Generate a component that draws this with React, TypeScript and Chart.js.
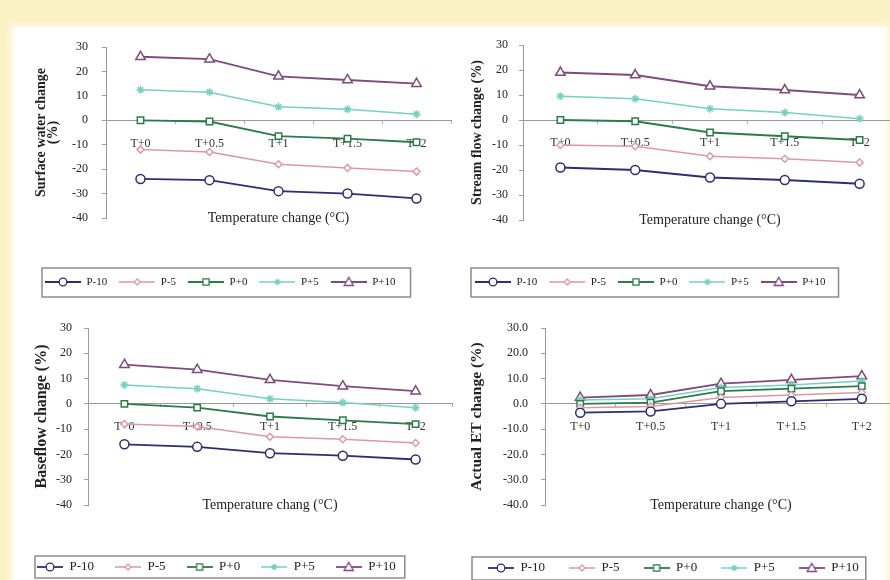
import React, { useEffect, useRef } from 'react';
import { Chart, registerables } from 'chart.js';

Chart.register(...registerables);

// ---------- data ----------
const categories = ['T+0', 'T+0.5', 'T+1', 'T+1.5', 'T+2'];
const seriesNames = ['P-10', 'P-5', 'P+0', 'P+5', 'P+10'];

const surfaceP10m = [-24, -24.5, -29, -30, -32];
const surfaceP5m = [-12, -13, -18, -19.5, -21];
const surfaceP0 = [0, -0.5, -6.5, -7.5, -9];
const surfaceP5 = [12.5, 11.5, 5.5, 4.5, 2.5];
const surfaceP10 = [26, 25, 18, 16.5, 15];

const streamP10m = [-19, -20, -23, -24, -25.5];
const streamP5m = [-10, -10.5, -14.5, -15.5, -17];
const streamP0 = [0, -0.5, -5, -6.5, -8];
const streamP5 = [9.5, 8.5, 4.5, 3, 0.5];
const streamP10 = [19, 18, 13.5, 12, 10];

const baseP10m = [-16, -17, -19.5, -20.5, -22];
const baseP5m = [-8, -9, -13, -14, -15.5];
const baseP0 = [0, -1.5, -5, -6.5, -8];
const baseP5 = [7.5, 6, 2, 0.5, -1.5];
const baseP10 = [15.5, 13.5, 9.5, 7, 5];

const etP10m = [-3.5, -3, 0, 1, 2];
const etP5m = [-1.5, -1, 2.5, 3.5, 4.5];
const etP0 = [0, 0.5, 5, 6, 7];
const etP5 = [1.5, 2, 6.5, 7.5, 9];
const etP10 = [2.5, 3.5, 8, 9.5, 11];

const yMin = -40;
const yMax = 30;
const yStep = 10;

// ---------- styles ----------
const seriesColors = ['#2e2e6e', '#d99aa7', '#2f7a4c', '#78d0c0', '#7e4c7c'];
const seriesMarkers = ['circle', 'rectRot', 'rect', 'star', 'triangle'];
const seriesRadius = [4.5, 3.5, 4.5, 4, 5.5];
const seriesLineWidth = [1.8, 1.5, 1.8, 1.5, 1.8];
const SERIF = '"Liberation Serif", "Times New Roman", serif';

function makeIcon(color: string, marker: string, radius: number, lw: number, w: number) {
  const h = 14;
  const c = document.createElement('canvas');
  c.width = w;
  c.height = h;
  const ctx = c.getContext('2d')!;
  ctx.strokeStyle = color;
  ctx.lineWidth = lw;
  ctx.beginPath();
  ctx.moveTo(0, h / 2);
  ctx.lineTo(w, h / 2);
  ctx.stroke();
  const cx = w / 2;
  const cy = h / 2;
  const r = radius * 0.85;
  ctx.fillStyle = '#fff';
  ctx.lineWidth = 1.3;
  ctx.beginPath();
  if (marker === 'circle') {
    ctx.arc(cx, cy, r, 0, Math.PI * 2);
    ctx.fill();
    ctx.stroke();
  } else if (marker === 'rectRot') {
    ctx.moveTo(cx, cy - r);
    ctx.lineTo(cx + r, cy);
    ctx.lineTo(cx, cy + r);
    ctx.lineTo(cx - r, cy);
    ctx.closePath();
    ctx.fill();
    ctx.stroke();
  } else if (marker === 'rect') {
    ctx.rect(cx - r * 0.8, cy - r * 0.8, r * 1.6, r * 1.6);
    ctx.fill();
    ctx.stroke();
  } else if (marker === 'triangle') {
    ctx.moveTo(cx, cy - r);
    ctx.lineTo(cx + r, cy + r * 0.75);
    ctx.lineTo(cx - r, cy + r * 0.75);
    ctx.closePath();
    ctx.fill();
    ctx.stroke();
  } else if (marker === 'star') {
    ctx.moveTo(cx - r, cy);
    ctx.lineTo(cx + r, cy);
    ctx.moveTo(cx, cy - r);
    ctx.lineTo(cx, cy + r);
    ctx.moveTo(cx - r * 0.7, cy - r * 0.7);
    ctx.lineTo(cx + r * 0.7, cy + r * 0.7);
    ctx.moveTo(cx - r * 0.7, cy + r * 0.7);
    ctx.lineTo(cx + r * 0.7, cy - r * 0.7);
    ctx.stroke();
  }
  return c;
}

const legendFramePlugin = {
  id: 'legendFrame',
  afterDraw(chart: any, _args: any, opts: any) {
    const lg = chart.legend;
    if (!lg || !lg.legendHitBoxes || !lg.legendHitBoxes.length) return;
    const hb = lg.legendHitBoxes;
    let x0 = Infinity, x1 = -Infinity, y0 = Infinity, y1 = -Infinity;
    hb.forEach((b: any) => {
      x0 = Math.min(x0, b.left);
      x1 = Math.max(x1, b.left + b.width);
      y0 = Math.min(y0, b.top);
      y1 = Math.max(y1, b.top + b.height);
    });
    const ctx = chart.ctx;
    ctx.save();
    ctx.strokeStyle = '#8c8c8c';
    ctx.lineWidth = 1.5;
    ctx.strokeRect(x0 - opts.l, y0 - opts.t, x1 - x0 + opts.l + opts.r, y1 - y0 + opts.t + opts.b);
    ctx.restore();
  },
};

type Spec = {
  series: number[][];
  yTitle: string | string[];
  xTitle: string;
  decimals: number;
  box: { left: number; top: number; width: number; height: number };
  pad: { left: number; top: number; right: number; bottom: number };
  yWidth: number;
  yTitleSize: number;
  yTitlePad: number;
  yTitleLH: number;
  yTickPad: number;
  xTitlePad: { top: number; bottom: number };
  legendFont: number;
  legendPad: number;
  iconW: number;
  frame: { l: number; r: number; t: number; b: number };
};

const specs: Spec[] = [
  {
    series: [surfaceP10m, surfaceP5m, surfaceP0, surfaceP5, surfaceP10],
    yTitle: ['Surface water change', '(%)'],
    xTitle: 'Temperature change (°C)',
    decimals: 0,
    box: { left: 10, top: 35, width: 448, height: 265 },
    pad: { left: 23, top: 12, right: 5, bottom: 2.5 },
    yWidth: 73,
    yTitleSize: 14,
    yTitlePad: 2,
    yTitleLH: 0.86,
    yTickPad: 14,
    xTitlePad: { top: -8.4, bottom: 38.1 },
    legendFont: 11,
    legendPad: 12,
    iconW: 36,
    frame: { l: 3, r: 15, t: 8.5, b: 9.5 },
  },
  {
    series: [streamP10m, streamP5m, streamP0, streamP5, streamP10],
    yTitle: 'Stream flow change (%)',
    xTitle: 'Temperature change (°C)',
    decimals: 0,
    box: { left: 455, top: 33, width: 449, height: 267 },
    pad: { left: 8, top: 12, right: 5, bottom: 2.5 },
    yWidth: 60,
    yTitleSize: 14,
    yTitlePad: 5.6,
    yTitleLH: 1.2,
    yTickPad: 11,
    xTitlePad: { top: -8.4, bottom: 36.1 },
    legendFont: 11,
    legendPad: 12,
    iconW: 36,
    frame: { l: 4, r: 13, t: 8.5, b: 9.5 },
  },
  {
    series: [baseP10m, baseP5m, baseP0, baseP5, baseP10],
    yTitle: 'Baseflow change (%)',
    xTitle: 'Temperature chang (°C)',
    decimals: 0,
    box: { left: 10, top: 318, width: 450, height: 266 },
    pad: { left: 6, top: 10, right: 8, bottom: 0.5 },
    yWidth: 72,
    yTitleSize: 16,
    yTitlePad: 18,
    yTitleLH: 1.0,
    yTickPad: 12,
    xTitlePad: { top: -8.4, bottom: 26.1 },
    legendFont: 13,
    legendPad: 21,
    iconW: 26,
    frame: { l: 2, r: 9, t: 4.5, b: 4.5 },
  },
  {
    series: [etP10m, etP5m, etP0, etP5, etP10],
    yTitle: 'Actual ET change (%)',
    xTitle: 'Temperature change (°C)',
    decimals: 1,
    box: { left: 455, top: 318, width: 449, height: 267 },
    pad: { left: 9, top: 10, right: 5, bottom: 0.5 },
    yWidth: 81,
    yTitleSize: 15.5,
    yTitlePad: 5,
    yTitleLH: 1.0,
    yTickPad: 13,
    xTitlePad: { top: -8.4, bottom: 24.1 },
    legendFont: 13,
    legendPad: 24,
    iconW: 26,
    frame: { l: 16, r: 7, t: 4.5, b: 5.5 },
  },
];

function LineChart({ spec }: { spec: Spec }) {
  const ref = useRef<HTMLCanvasElement | null>(null);
  useEffect(() => {
    if (!ref.current) return;
    const icons = seriesNames.map((_, i) =>
      makeIcon(seriesColors[i], seriesMarkers[i], seriesRadius[i], seriesLineWidth[i], spec.iconW)
    );
    const chart = new Chart(ref.current, {
      type: 'line',
      data: {
        labels: categories,
        datasets: seriesNames.map((name, i) => ({
          label: name,
          data: spec.series[i],
          borderColor: seriesColors[i],
          borderWidth: seriesLineWidth[i],
          backgroundColor: '#ffffff',
          pointStyle: seriesMarkers[i] as any,
          pointRadius: seriesRadius[i],
          pointBorderWidth: 1.5,
          pointBackgroundColor: '#ffffff',
          pointBorderColor: seriesColors[i],
          tension: 0,
          fill: false,
        })),
      },
      options: {
        responsive: false,
        animation: false,
        devicePixelRatio: 1,
        layout: { padding: spec.pad },
        scales: {
          x: {
            type: 'category',
            position: { y: 0 } as any,
            offset: true,
            afterFit: (s: any) => {
              s.paddingLeft = 0;
              s.paddingRight = 0;
            },
            grid: { display: true, drawOnChartArea: false, drawTicks: true, tickLength: 3, color: '#b0b0b0', offset: true },
            border: { display: true, color: '#9a9a9a', width: 1 },
            ticks: { padding: 13, color: '#333', font: { family: SERIF, size: 12 } },
          },
          x2: {
            type: 'category',
            position: 'bottom',
            offset: true,
            afterFit: (s: any) => {
              s.paddingLeft = 0;
              s.paddingRight = 0;
            },
            grid: { display: false, drawTicks: false },
            border: { display: false },
            ticks: { display: false },
            title: {
              display: true,
              text: spec.xTitle,
              color: '#222',
              font: { family: SERIF, size: 14 },
              padding: spec.xTitlePad,
            },
          },
          y: {
            type: 'linear',
            position: 'left',
            min: yMin,
            max: yMax,
            afterFit: (s: any) => {
              s.width = spec.yWidth;
              s.paddingTop = 0;
              s.paddingBottom = 0;
            },
            ticks: {
              stepSize: yStep,
              padding: spec.yTickPad,
              color: '#222',
              font: { family: SERIF, size: 12 },
              callback: (v: any) => Number(v).toFixed(spec.decimals),
            },
            grid: { display: true, drawOnChartArea: false, drawTicks: true, tickLength: 4, color: '#a0a0a0' },
            border: { display: true, color: '#9a9a9a', width: 1 },
            title: {
              display: true,
              text: spec.yTitle,
              color: '#222',
              font: { family: SERIF, size: spec.yTitleSize, weight: 'bold', lineHeight: spec.yTitleLH },
              padding: { top: spec.yTitlePad, bottom: 0 },
            },
          },
        },
        plugins: {
          legend: {
            display: true,
            position: 'bottom',
            align: 'start',
            labels: {
              usePointStyle: true,
              pointStyleWidth: spec.iconW,
              padding: spec.legendPad,
              color: '#222',
              font: { family: SERIF, size: spec.legendFont },
              generateLabels: (c: any) =>
                c.data.datasets.map((ds: any, i: number) => ({
                  text: ds.label,
                  pointStyle: icons[i],
                  fillStyle: 'rgba(0,0,0,0)',
                  strokeStyle: 'rgba(0,0,0,0)',
                  lineWidth: 0,
                  hidden: false,
                  datasetIndex: i,
                  fontColor: '#222',
                })),
            },
          },
          tooltip: { enabled: false },
          legendFrame: spec.frame,
        } as any,
      },
      plugins: [legendFramePlugin],
    });
    return () => chart.destroy();
  }, [spec]);
  return (
    <canvas
      ref={ref}
      width={spec.box.width}
      height={spec.box.height}
      style={{
        position: 'absolute',
        left: spec.box.left,
        top: spec.box.top,
        width: spec.box.width,
        height: spec.box.height,
      }}
    />
  );
}

export default function App() {
  return (
    <div
      style={{
        position: 'fixed',
        left: 0,
        top: 0,
        width: 890,
        height: 580,
        overflow: 'hidden',
        background: '#fbf2c4',
      }}
    >
      <div
        style={{
          position: 'absolute',
          left: 14,
          top: 28,
          width: 872,
          height: 570,
          background: '#ffffff',
          boxShadow: '0 0 6px 3px rgba(255,255,255,0.9)',
        }}
      />
      {specs.map((s, i) => (
        <LineChart key={i} spec={s} />
      ))}
    </div>
  );
}
